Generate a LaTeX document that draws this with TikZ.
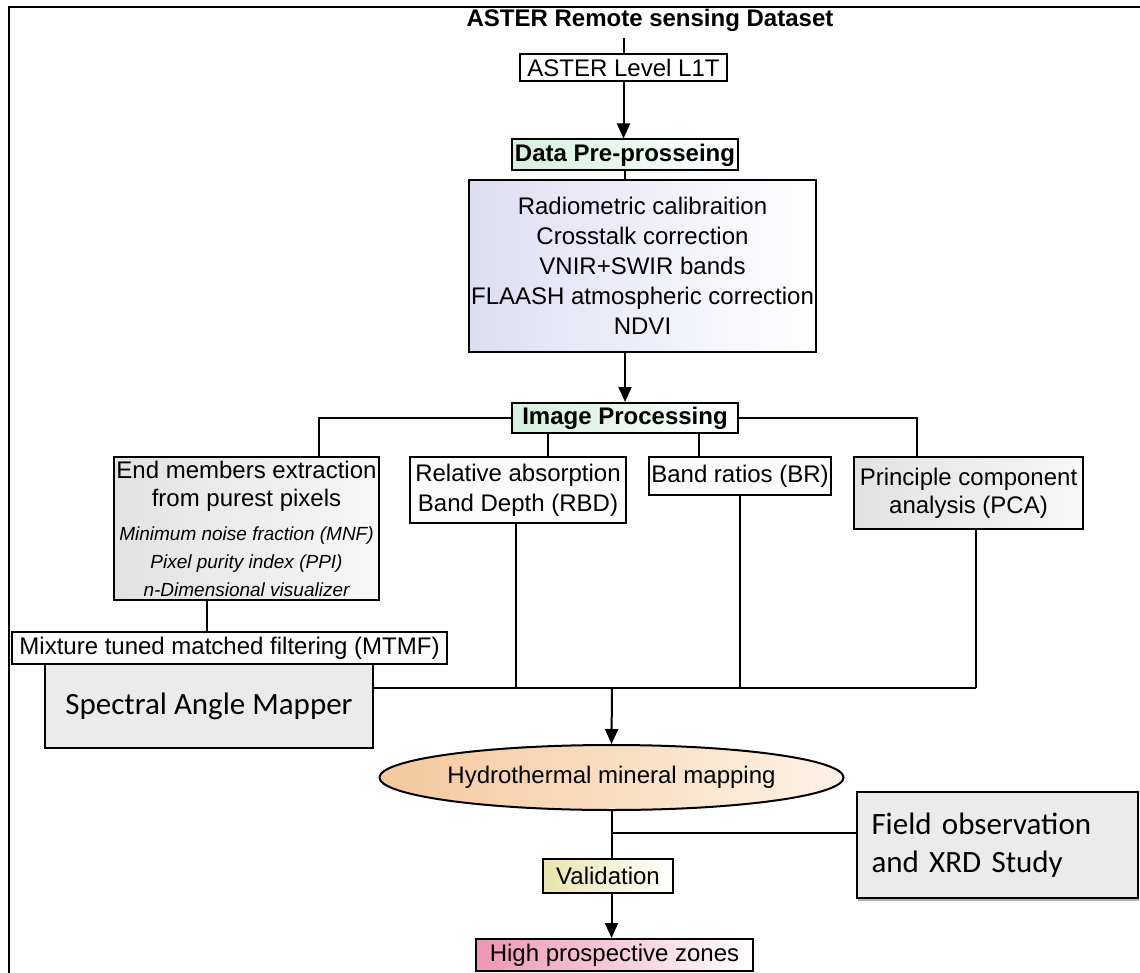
\documentclass[tikz,border=0pt]{standalone}
\usepackage{fontspec}
\setmainfont{Liberation Sans}
\newfontfamily\calfont{Carlito}
\usetikzlibrary{arrows.meta,shapes.geometric,shadows}

\definecolor{mintL}{RGB}{212,240,222}
\definecolor{lavL}{RGB}{222,222,242}
\definecolor{grayL}{RGB}{226,226,226}
\definecolor{peachL}{RGB}{244,200,155}
\definecolor{peachR}{RGB}{254,242,230}
\definecolor{khakiL}{RGB}{232,228,172}
\definecolor{pinkL}{RGB}{238,150,178}

\newcommand\itline[1]{{\itshape\fontsize{9.5}{12.5}\selectfont #1}}

\begin{document}
\begin{tikzpicture}[x=0.5pt,y=-0.5pt,
    font=\fontsize{12}{14}\selectfont,
    box/.style={draw, line width=1pt, inner sep=1pt, align=center},
    link/.style={line width=1pt},
    arr/.style={link, -{Triangle[width=6.5pt,length=7.5pt]}}]
    \useasboundingbox (0,0) rectangle (1140,973);
    \draw[line width=1.2pt] (9,973) -- (9,7) -- (1140,7);

    \node[font=\fontsize{12}{14}\selectfont\bfseries] (title) at (650,20) {ASTER Remote sensing Dataset};
    \node[box, minimum width=103.5pt, minimum height=13.5pt] (l1t) at (623.5,67.5) {ASTER Level L1T};
    \node[box, font=\fontsize{12}{14}\selectfont\bfseries, left color=mintL, right color=white,
        minimum width=113pt, minimum height=15.5pt] (pre) at (625,155) {Data Pre-prosseing};
    \node[box, font=\fontsize{12}{15}\selectfont, left color=lavL, right color=white,
        minimum width=156.5pt, minimum height=85.5pt] (calib) at (642.5,266)
        {Radiometric calibraition\\Crosstalk correction\\VNIR+SWIR bands\\FLAASH atmospheric correction\\NDVI};
    \node[box, font=\fontsize{12}{14}\selectfont\bfseries, left color=mintL, right color=white,
        minimum width=113pt, minimum height=15pt] (imgproc) at (625,418) {Image Processing};

    \node[box, left color=grayL, right color=white!94!gray,
        minimum width=128.5pt, minimum height=71.5pt] (endm) at (246.5,528.5)
        {End members extraction\\from purest pixels\\[3pt]\itline{Minimum noise fraction (MNF)}\\
        \itline{Pixel purity index (PPI)}\\\itline{n-Dimensional visualizer}};
    \node[box, fill=white!97!gray, minimum width=108pt, minimum height=33pt] (rbd) at (518,490)
        {Relative absorption\\[1pt]Band Depth (RBD)};
    \node[box, fill=white!97!gray, minimum width=88pt, minimum height=19pt] (br) at (740,476) {Band ratios (BR)};
    \node[box, left color=grayL, right color=white!94!gray,
        minimum width=114.5pt, minimum height=36pt] (pca) at (968.5,493)
        {Principle component\\analysis (PCA)};

    \node[box, fill=white!97!gray, minimum width=217.5pt, minimum height=16pt] (mtmf) at (229.5,648)
        {Mixture tuned matched filtering (MTMF)};
    \node[box, font=\calfont\fontsize{15.5}{18}\selectfont, fill=grayL!70,
        minimum width=164pt, minimum height=42pt] (sam) at (209,706) {Spectral Angle Mapper};

    \node[ellipse, draw, link, inner sep=0pt, left color=peachL, right color=peachR,
        minimum width=203.5pt, minimum height=32.5pt] (hydro) at (611.5,777.5) {Hydrothermal mineral mapping};
    \node[box, left color=khakiL, right color=white, minimum width=65pt, minimum height=17pt] (valid) at (608,876) {Validation};
    \node[box, left color=pinkL, right color=white, minimum width=138.5pt, minimum height=16pt] (high) at (614.5,955)
        {High prospective zones};
    \node[box, font=\calfont\fontsize{15.5}{19}\selectfont, align=left, fill=grayL!70,
        drop shadow={shadow xshift=0.5pt, shadow yshift=-1.5pt, fill=black!60},
        minimum width=140.5pt, minimum height=53pt, text width=126pt] (field) at (997.5,845)
        {Field observation\\and XRD Study};

    \coordinate (join) at (612,688);

    \draw[link] (l1t.north) -- (l1t.north |- title.south);
    \draw[arr] (l1t.south) -- (l1t.south |- pre.north);
    \draw[link] (pre.south) -- (pre.south |- calib.north);
    \draw[arr] (imgproc.north |- calib.south) -- (imgproc.north);

    \draw[link] (imgproc.west) -| ([xshift=36.25pt]endm.north);
    \draw[link] (imgproc.east) -| ([xshift=-25.75pt]pca.north);
    \draw[link] ([xshift=15pt]rbd.north) -- ([xshift=15pt]rbd.north |- imgproc.south);
    \draw[link] ([xshift=-20.5pt]br.north) -- ([xshift=-20.5pt]br.north |- imgproc.south);
    \draw[link] ([xshift=-19.75pt]endm.south) -- ([xshift=-19.75pt]endm.south |- mtmf.north);

    \draw[link] ([xshift=-1pt]rbd.south) -- ([xshift=-1pt]rbd.south |- join);
    \draw[link] (br.south) -- (br.south |- join);
    \draw[link] ([xshift=3.75pt]pca.south) -- ([xshift=3.75pt]pca.south |- join);
    \draw[link] (join -| sam.east) -- ([xshift=3.75pt]pca.south |- join);
    \draw[arr] (join) -- (hydro.north);

    \draw[link] (hydro.south) -- (hydro.south |- valid.north);
    \draw[link] ([yshift=6pt]field.west) -- ([yshift=6pt]field.west -| hydro.south);
    \draw[arr] (hydro.south |- valid.south) -- (hydro.south |- high.north);
\end{tikzpicture}
\end{document}
